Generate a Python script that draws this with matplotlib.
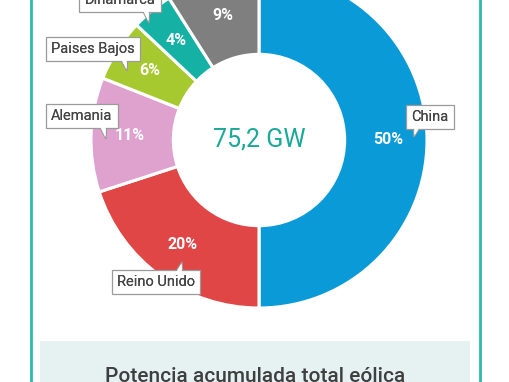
import numpy as np
import matplotlib.pyplot as plt
from matplotlib.patches import Rectangle, Polygon

plt.rcParams['font.family'] = ['Roboto', 'DejaVu Sans']

# data
paises = ['China', 'Reino Unido', 'Alemania', 'Paises Bajos', 'Dinamarca', 'Otros']
porcentajes = [50, 20, 11, 6, 4, 9]
colores = ['#0a9ad8', '#e04646', '#dfa1cd', '#a7c930', '#15b1a5', '#7f7f7f']
etiquetas = ['China', 'Reino Unido', 'Alemania', 'Paises Bajos', 'Dinamarca', '']
total = '75,2 GW'
titulo = 'Potencia acumulada total eólica'

W, H = 510, 382
fig = plt.figure(figsize=(W / 100, H / 100), dpi=100)
ax = fig.add_axes([0, 0, 1, 1])

cx, cy = 259, H - 140
r = 168

wedges, _ = ax.pie(porcentajes, colors=colores, startangle=90, counterclock=False,
                   center=(cx, cy), radius=r, frame=True,
                   wedgeprops=dict(width=r * 0.49, edgecolor='white', linewidth=2.2))
ax.set_xlim(0, W)
ax.set_ylim(0, H)
ax.set_aspect('equal')
ax.axis('off')

# callout boxes: (box centre, pointer tip) in pixels from the top
callouts = {
    'China': ((430, 117), (414, 137)),
    'Reino Unido': ((156, 282), (182, 262)),
    'Alemania': ((82, 116), (106, 139)),
    'Paises Bajos': ((93, 49), (127, 71)),
    'Dinamarca': ((120, 0), (149, 23)),
}
for w, p, lab in zip(wedges, porcentajes, etiquetas):
    ang = np.deg2rad((w.theta1 + w.theta2) / 2)
    rl = r * 0.77
    x = cx + rl * np.cos(ang)
    y = cy + rl * np.sin(ang)
    ax.text(x, y, f'{p}%', color='white', fontsize=11.5, fontweight='bold',
            ha='center', va='center')
    if lab:
        (bx, by), (px, py) = callouts[lab]
        ax.text(bx, H - by, lab, fontsize=10.5, color='#454545', ha='center', va='center',
                bbox=dict(boxstyle='square,pad=0.35', fc='white', ec='#9a9a9a', lw=0.9),
                zorder=6)
        # speech bubble tail
        sy = 1 if py > by else -1
        sx = 1 if px > bx else -1
        base_y = by + sy * 6
        base_x = px - sx * 4
        tail = Polygon([(base_x - 5, H - base_y), (base_x + 5, H - base_y), (px, H - py)],
                       closed=True, fc='white', ec='#9a9a9a', lw=0.9, zorder=5)
        ax.add_patch(tail)
        ax.add_patch(Polygon([(base_x - 4, H - base_y), (base_x + 4, H - base_y),
                              (px - sx * 0.6, H - py + sy * 1.5)],
                             closed=True, fc='white', ec='none', zorder=7))
        ax.text(bx, H - by, lab, fontsize=10.5, color='#454545', ha='center', va='center',
                zorder=8)

ax.text(cx, cy, total, color='#1aa999', fontsize=18, ha='center', va='center')

# frame lines and bottom box
ax.plot([31, 31], [0, H], color='#2bbab0', lw=2)
ax.plot([480, 480], [0, H], color='#2bbab0', lw=2)
ax.add_patch(Rectangle((40, 0), 430, H - 341, fc='#e6f2f2', ec='none'))
ax.text(255, H - 377, titulo, color='#3f3f3f', fontsize=15, fontweight='medium',
        ha='center', va='center')

fig.savefig('out.png', dpi=100)
